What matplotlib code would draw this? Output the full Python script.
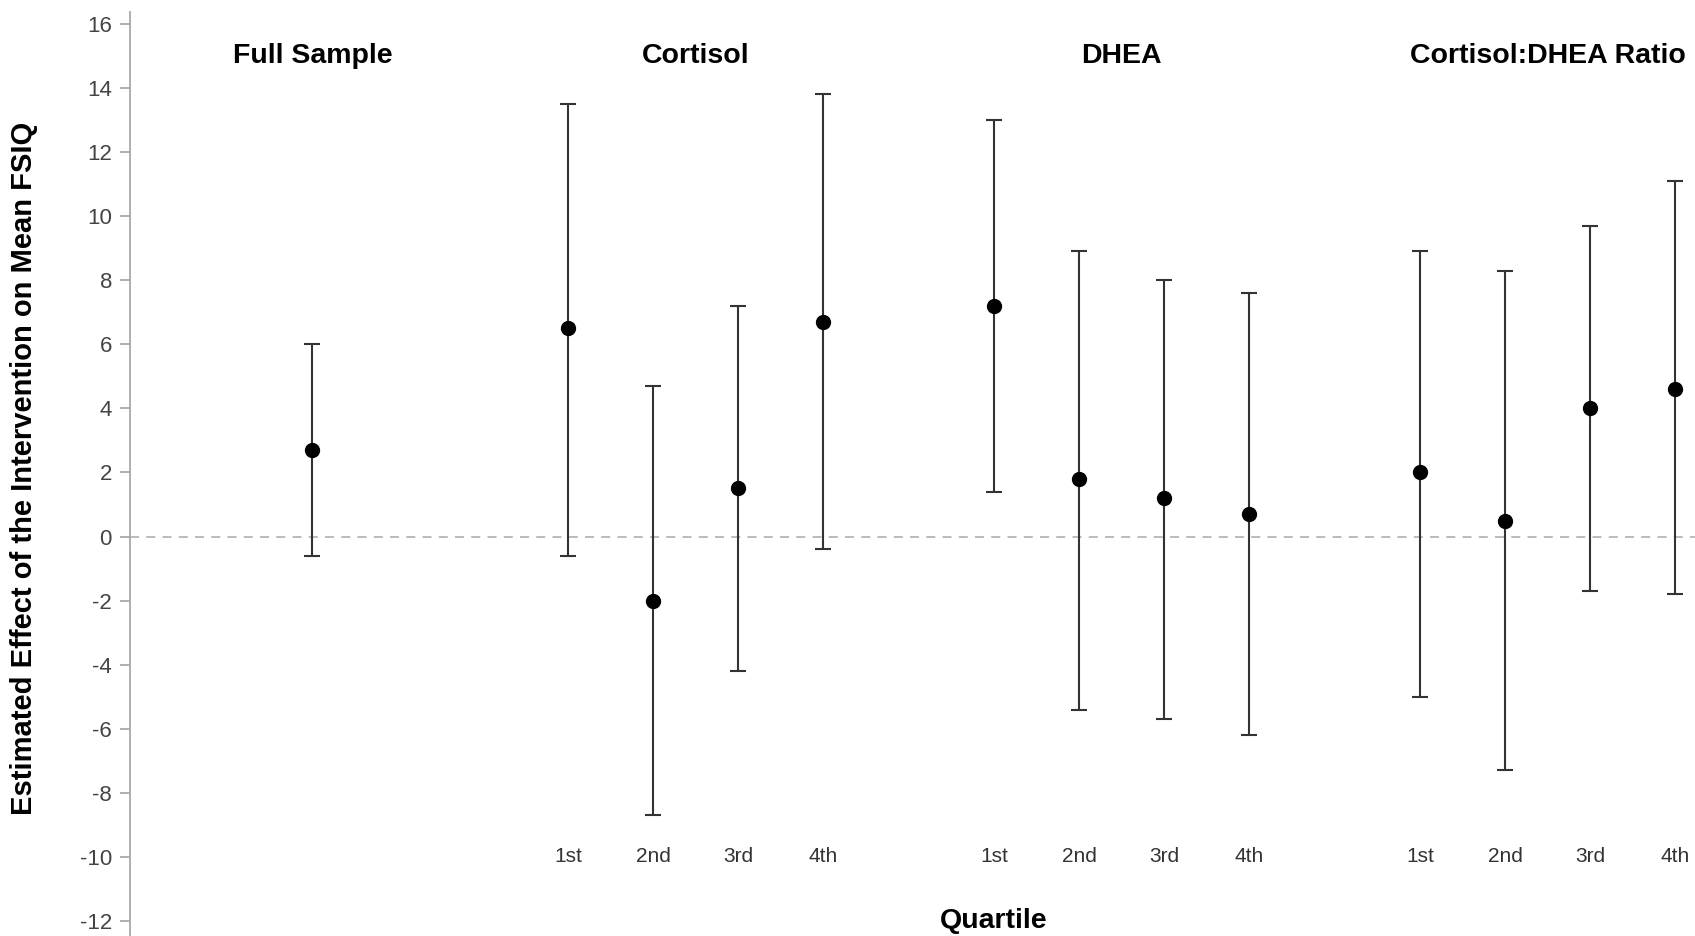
import numpy as np
import matplotlib.pyplot as plt

# estimates and 95% CI
groups = ["Full Sample", "Cortisol", "DHEA", "Cortisol:DHEA Ratio"]
quartiles = ["1st", "2nd", "3rd", "4th"]

full_est = [2.7]
full_lo = [-0.6]
full_hi = [6.0]

cort_est = [6.5, -2.0, 1.5, 6.7]
cort_lo = [-0.6, -8.7, -4.2, -0.4]
cort_hi = [13.5, 4.7, 7.2, 13.8]

dhea_est = [7.2, 1.8, 1.2, 0.7]
dhea_lo = [1.4, -5.4, -5.7, -6.2]
dhea_hi = [13.0, 8.9, 8.0, 7.6]

ratio_est = [2.0, 0.5, 4.0, 4.6]
ratio_lo = [-5.0, -7.3, -1.7, -1.8]
ratio_hi = [8.9, 8.3, 9.7, 11.1]

plt.rcParams['font.family'] = ['Liberation Sans', 'DejaVu Sans']
plt.rcParams['axes.unicode_minus'] = False

fig = plt.figure(figsize=(16.95, 9.36), dpi=100)
ax = fig.add_axes([0.0767, 0.0, 0.9233, 0.987])

series = [(full_est, full_lo, full_hi),
          (cort_est, cort_lo, cort_hi),
          (dhea_est, dhea_lo, dhea_hi),
          (ratio_est, ratio_lo, ratio_hi)]
starts = [1, 4, 9, 14]

ax.axhline(0, color='#b5b5b5', lw=1.3, ls=(0, (5, 4)), zorder=1)

for (est, lo, hi), s, name in zip(series, starts, groups):
    est = np.array(est)
    x = s + np.arange(len(est))
    err = [est - np.array(lo), np.array(hi) - est]
    ax.errorbar(x, est, yerr=err, fmt='o', color='black', ms=10,
                ecolor='#333333', elinewidth=1.5, capsize=6, capthick=1.5, zorder=3)
    ax.text(x.mean(), 15.0, name, ha='center', va='center', fontsize=20.5,
            fontweight='bold')
    if len(est) > 1:
        for xi, q in zip(x, quartiles):
            ax.text(xi, -10, q, ha='center', va='center', fontsize=15,
                    color='#333333')

ax.set_xlim(-1.14, 17.23)
ax.set_ylim(-12.47, 16.37)
ax.set_yticks(np.arange(-12, 17, 2))
ax.set_xticks([])
for sp in ['top', 'right', 'bottom']:
    ax.spines[sp].set_visible(False)
ax.spines['left'].set_color('#a8a8a8')
ax.spines['left'].set_linewidth(1.3)
ax.tick_params(axis='y', colors='#a8a8a8', labelcolor='#444444', labelsize=16,
               length=7, width=1.3, pad=6)

fig.text(0.014, 0.5, "Estimated Effect of the Intervention on Mean FSIQ", rotation=90,
         ha='center', va='center', fontsize=21, fontweight='bold')
ax.text(9.0, -12.0, "Quartile", ha='center', va='center', fontsize=20.5,
        fontweight='bold')

fig.savefig("out.png", dpi=100)
